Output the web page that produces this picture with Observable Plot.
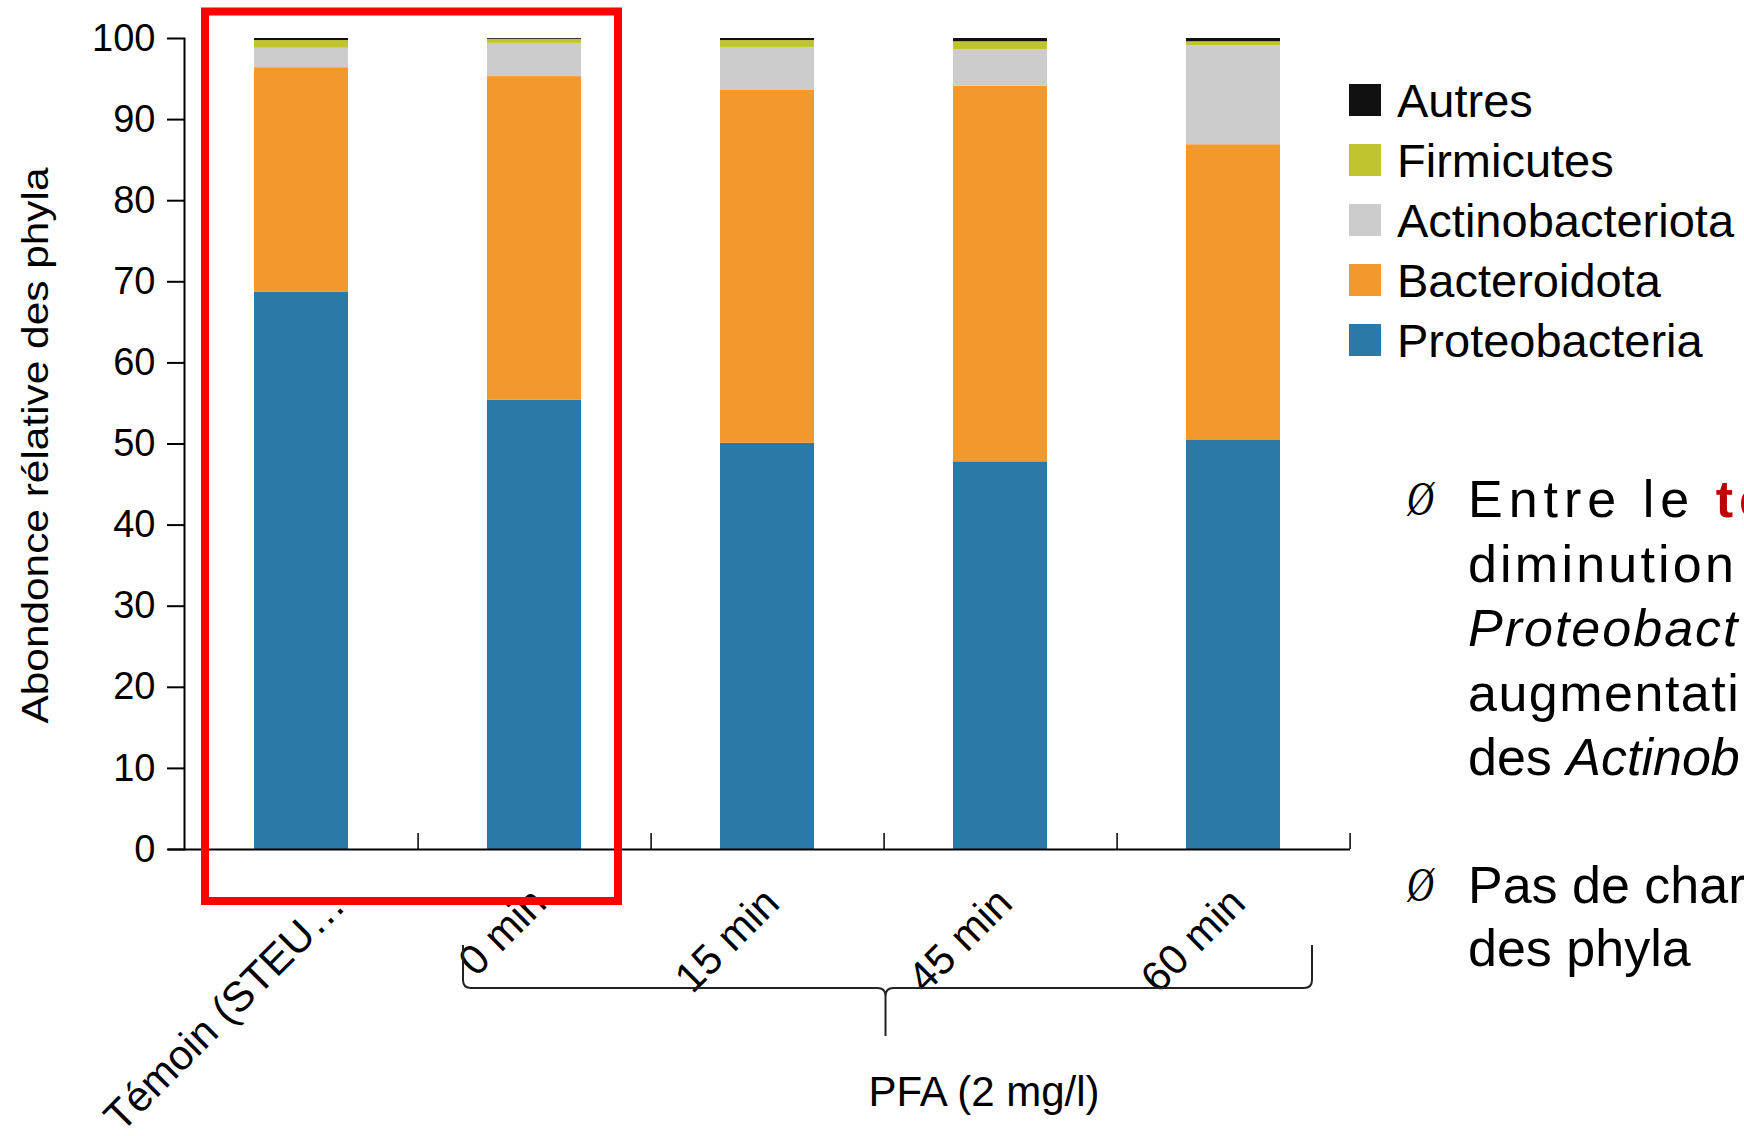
<!DOCTYPE html>
<html>
<head>
<meta charset="utf-8">
<script src="https://cdn.jsdelivr.net/npm/d3@7"></script>
<script src="https://cdn.jsdelivr.net/npm/@observablehq/plot@0.6"></script>
<style>
  html, body { margin: 0; padding: 0; background: #fff; overflow: hidden; }
  #chart svg { display: block; }
</style>
</head>
<body>
<div id="chart"></div>
<script>
// ---- data ----
const categories = ["Témoin (STEU…", "0 min", "15 min", "45 min", "60 min"];
const phyla = ["Proteobacteria", "Bacteroidota", "Actinobacteriota", "Firmicutes", "Autres"];
const proteobacteria   = [68.7, 55.4, 50.1, 47.8, 50.5];
const bacteroidota     = [27.7, 39.9, 43.5, 46.3, 36.4];
const actinobacteriota = [2.4, 4.1, 5.3, 4.5, 12.2];
const firmicutes       = [0.95, 0.5, 0.85, 1.0, 0.5];
const autres           = [0.25, 0.1, 0.25, 0.4, 0.4];
const phylumColors = ["#2b79a7", "#f2992e", "#cccccc", "#c0c52f", "#111111"];
const yTicks = [0, 10, 20, 30, 40, 50, 60, 70, 80, 90, 100];
const yLabel = "Abondonce rélative des phyla";
const groupLabel = "PFA (2 mg/l)";
const legendOrder = ["Autres", "Firmicutes", "Actinobacteriota", "Bacteroidota", "Proteobacteria"];
const bullet1 = [
  [{t: "Entre le ", ls: 6}, {t: "te", ls: 6, bold: true, color: "#c00000"}],
  [{t: "diminution", ls: 3.2}],
  [{t: "Proteobact", ls: 2, italic: true}],
  [{t: "augmentati", ls: 1.5}],
  [{t: "des ", ls: 0}, {t: "Actinob", ls: 0, italic: true}]
];
const bullet2 = [
  [{t: "Pas de char", ls: 0}],
  [{t: "des phyla", ls: 0}]
];

const seriesValues = [proteobacteria, bacteroidota, actinobacteriota, firmicutes, autres];
const table = [];
phyla.forEach((p, j) => categories.forEach((c, i) => table.push({cat: c, phylum: p, value: seriesValues[j][i]})));

const FONT = "'Liberation Sans', Arial, Helvetica, sans-serif";
const W = 1744, H = 1136;
const mL = 184, mR = 394, mT = 38, mB = 287;
const step = (W - mL - mR) / categories.length;

const plot = Plot.plot({
  width: W, height: H,
  marginLeft: mL, marginRight: mR, marginTop: mT, marginBottom: mB,
  style: {fontFamily: FONT, background: "#fff", overflow: "visible", color: "#000"},
  x: {domain: categories, paddingInner: 0.597, paddingOuter: 0.2985, axis: null},
  y: {domain: [0, 100], axis: null},
  color: {domain: phyla, range: phylumColors},
  marks: [
    Plot.barY(table, {x: "cat", y: "value", fill: "phylum", z: "phylum", order: phyla}),
    Plot.axisY(yTicks, {label: null, tickSize: 17, tickPadding: 12, fontSize: 38, stroke: "#000", strokeWidth: 2, tickFormat: d => String(d)}),
    Plot.frame({anchor: "left", stroke: "#000", strokeWidth: 2}),
    Plot.ruleY([0], {insetLeft: -16, stroke: "#000", strokeWidth: 2}),
    Plot.ruleX(categories, {x: d => d, dx: step / 2, insetTop: (H - mT - mB) - 16, stroke: "#000", strokeWidth: 1.5}),
    Plot.text(categories.slice(0, 1), {x: d => d, frameAnchor: "bottom", rotate: -45, textAnchor: "end", dx: 46, dy: 58, fontSize: 42, fill: "#000"}),
    Plot.text(categories.slice(1), {x: d => d, frameAnchor: "bottom", rotate: -45, textAnchor: "end", dx: 14, dy: 56, fontSize: 42, fill: "#000"})
  ]
});

document.getElementById("chart").appendChild(plot);

const svg = d3.select(plot);
const xs = plot.scale("x");
const ys = plot.scale("y");
const bw = xs.bandwidth;
const cx = c => xs.apply(c) + bw / 2;
const y0 = ys.apply(0), y100 = ys.apply(100);

// red highlight box around the first two groups
svg.append("rect")
  .attr("x", cx(categories[0]) - 96)
  .attr("y", y100 - 26.5)
  .attr("width", (cx(categories[1]) + 84) - (cx(categories[0]) - 96))
  .attr("height", (y0 + 52) - (y100 - 26.5))
  .attr("fill", "none").attr("stroke", "#ff0000").attr("stroke-width", 8);

// y axis title
svg.append("text")
  .attr("transform", `translate(48, ${(y0 + y100) / 2 + 2}) rotate(-90)`)
  .attr("text-anchor", "middle")
  .attr("font-family", FONT).attr("font-size", 37)
  .attr("textLength", 556).attr("lengthAdjust", "spacingAndGlyphs")
  .text(yLabel);

// curly brace under PFA groups
const bl = cx(categories[1]) - 71, br = cx(categories[4]) + 79;
const bm = (bl + br) / 2 - 2;
const by = y0 + 139, btop = y0 + 96, btip = y0 + 187;
const r = 8;
const bracePath = `M${bl},${btop} L${bl},${by - r} Q${bl},${by} ${bl + r},${by} L${bm - r},${by} Q${bm},${by} ${bm},${by + r} L${bm},${btip}`
  + ` M${bm},${by + r} Q${bm},${by} ${bm + r},${by} L${br - r},${by} Q${br},${by} ${br},${by - r} L${br},${btop}`;
svg.append("path").attr("d", bracePath).attr("fill", "none").attr("stroke", "#222").attr("stroke-width", 2);

svg.append("text")
  .attr("x", 984).attr("y", y0 + 257)
  .attr("text-anchor", "middle")
  .attr("font-family", FONT).attr("font-size", 42)
  .text(groupLabel);

// legend
const lg = svg.append("g");
legendOrder.forEach((p, i) => {
  const yy = 84 + i * 60;
  lg.append("rect").attr("x", 1349).attr("y", yy).attr("width", 32).attr("height", 32)
    .attr("fill", phylumColors[phyla.indexOf(p)]);
  lg.append("text").attr("x", 1397).attr("y", yy + 33)
    .attr("text-anchor", "start")
    .attr("font-family", FONT).attr("font-size", 47).text(p);
});

// bullet text
function drawBlock(lines, baseY, lineGap) {
  svg.append("text").attr("x", 1407).attr("y", baseY - 2)
    .attr("text-anchor", "start")
    .attr("font-family", "'Liberation Serif', 'DejaVu Serif', serif")
    .attr("font-style", "italic").attr("font-size", 48)
    .attr("textLength", 27).attr("lengthAdjust", "spacingAndGlyphs")
    .text("Ø");
  lines.forEach((parts, i) => {
    const t = svg.append("text").attr("x", 1468).attr("y", baseY + i * lineGap)
      .attr("text-anchor", "start")
      .attr("font-family", FONT).attr("font-size", 52);
    parts.forEach(p => {
      t.append("tspan")
        .attr("letter-spacing", p.ls)
        .attr("font-weight", p.bold ? "bold" : null)
        .attr("font-style", p.italic ? "italic" : null)
        .attr("fill", p.color || "#000")
        .text(p.t);
    });
  });
}
drawBlock(bullet1, 517, 64.5);
drawBlock(bullet2, 903, 63);
</script>
</body>
</html>
